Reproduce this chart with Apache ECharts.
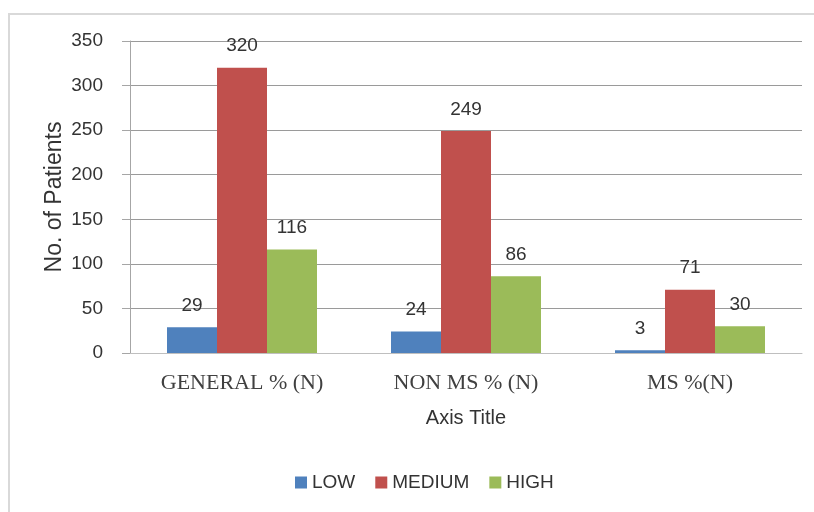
<!DOCTYPE html>
<html>
<head>
<meta charset="utf-8">
<script src="https://cdn.jsdelivr.net/npm/echarts@6/dist/echarts.min.js"></script>
<style>
  html, body { margin: 0; padding: 0; background: #fff; }
  #chart { width: 814px; height: 512px; }
</style>
</head>
<body>
<div id="chart"></div>
<script>
// Patient counts by risk level for each group
const categories = ['GENERAL % (N)', 'NON MS % (N)', 'MS %(N)'];
const lowValues = [29, 24, 3];
const mediumValues = [320, 249, 71];
const highValues = [116, 86, 30];
const seriesNames = ['LOW', 'MEDIUM', 'HIGH'];
const seriesColors = ['#4F81BD', '#C0504D', '#9BBB59'];

const sans = '"Liberation Sans", Arial, sans-serif';
const serif = '"Liberation Serif", "Times New Roman", serif';
const textColor = '#333333';

const chart = echarts.init(document.getElementById('chart'), null, { renderer: 'canvas' });

function barSeries(name, values, color) {
  return {
    name: name,
    type: 'bar',
    data: values,
    barWidth: 50,
    barGap: '0%',
    itemStyle: { color: color },
    label: {
      show: true,
      position: 'top',
      distance: 12,
      fontFamily: sans,
      fontSize: 19,
      color: textColor
    }
  };
}

chart.setOption({
  animation: false,
  backgroundColor: '#fff',
  graphic: [{
    type: 'rect',
    shape: { x: 9, y: 14, width: 900, height: 600 },
    style: { fill: 'none', stroke: '#d9d9d9', lineWidth: 2 },
    silent: true
  }],
  grid: { left: 130, right: 12, top: 41, bottom: 159 },
  legend: {
    data: seriesNames,
    left: 290,
    top: 468,
    itemWidth: 12,
    itemHeight: 12,
    itemGap: 20,
    icon: 'rect',
    textStyle: { fontFamily: sans, fontSize: 19, color: textColor }
  },
  xAxis: {
    type: 'category',
    data: categories,
    name: 'Axis Title',
    nameLocation: 'middle',
    nameGap: 55,
    nameMoveOverlap: false,
    nameTextStyle: { fontFamily: sans, fontSize: 20, color: textColor },
    axisLine: { lineStyle: { color: '#bfbfbf', width: 1 } },
    axisTick: { show: false },
    axisLabel: { fontFamily: serif, fontSize: 22, color: '#404040', margin: 19 }
  },
  yAxis: {
    type: 'value',
    min: 0,
    max: 350,
    interval: 50,
    name: 'No. of Patients',
    nameLocation: 'middle',
    nameRotate: 90,
    nameGap: 64,
    nameMoveOverlap: false,
    nameTextStyle: { fontFamily: sans, fontSize: 23, color: textColor },
    axisLine: { show: true, lineStyle: { color: '#a6a6a6', width: 1 } },
    axisTick: { show: true, length: 8, lineStyle: { color: '#a6a6a6' } },
    axisLabel: { fontFamily: sans, fontSize: 19, color: textColor, margin: 27 },
    splitLine: { lineStyle: { color: '#9a9a9a', width: 1 } }
  },
  series: [
    barSeries(seriesNames[0], lowValues, seriesColors[0]),
    barSeries(seriesNames[1], mediumValues, seriesColors[1]),
    barSeries(seriesNames[2], highValues, seriesColors[2])
  ]
});
</script>
</body>
</html>
